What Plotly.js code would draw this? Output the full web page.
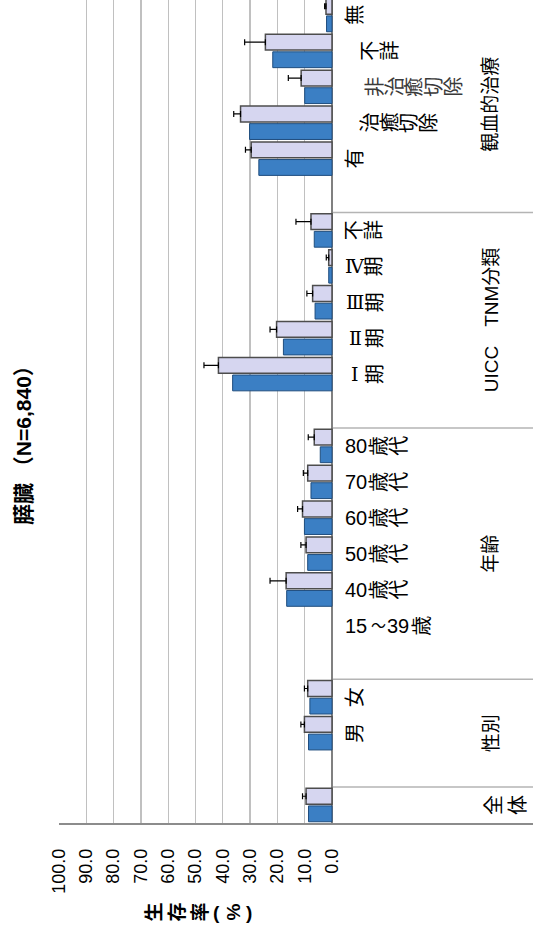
<!DOCTYPE html>
<html><head><meta charset="utf-8">
<script src="https://cdn.plot.ly/plotly-3.0.1.min.js"></script>
<style>html,body{margin:0;padding:0;background:#fff;} #chart{width:533px;height:933px;}</style>
</head><body><div id="chart"></div>
<script>
// ---- data ----
const categories = ["全体","gap1","男","女","gap2","15〜39歳","40歳代","50歳代","60歳代","70歳代","80歳代","gap3","Ⅰ期","Ⅱ期","Ⅲ期","Ⅳ期","不詳(UICC)","gap4","有","治癒切除","非治癒切除","不詳(観血)","無"];
const categoryLabels = ["全体","","男","女","","15〜39歳","40歳代","50歳代","60歳代","70歳代","80歳代","","Ⅰ期","Ⅱ期","Ⅲ期","Ⅳ期","不詳","","有","治癒切除","非治癒切除","不詳","無"];
const observedRate = [8.6,null,8.6,8.1,null,null,16.6,8.9,10.1,7.7,4.3,null,36.4,17.8,6.2,1.2,6.5,null,26.8,30.2,10.0,21.7,2.0];
const relativeRate = [9.5,null,10.1,8.9,null,null,16.8,9.5,10.8,8.9,6.5,null,41.6,20.3,7.1,1.2,7.7,null,29.6,33.5,11.3,24.4,2.2];
const relativeUpperCI = [1.3,null,1.3,1.2,null,null,5.9,1.9,1.8,1.6,2.2,null,5.3,2.4,2.1,0.9,5.5,null,2.1,2.5,4.7,7.6,0.5];
const groupNames = ["性別","年齢","UICC　TNM分類","観血的治療"];
const groupFirst = [1,4,11,17];
const groupLast = [3,10,16,22];
const tickValues = [0,10,20,30,40,50,60,70,80,90,100];
const tickLabels = ["0.0","10.0","20.0","30.0","40.0","50.0","60.0","70.0","80.0","90.0","100.0"];
const chartTitle = "膵臓 （N=6,840）";
const axisTitle = "生存率(%)";

// ---- layout geometry ----
const W = 533, H = 933;
const plotL = 59, plotR = 533, plotT = 0, plotB = 823;
const zeroPx = 332;
const pxPerUnit = (zeroPx - plotL) / 100;
const xRange = [100, 100 - (plotR - plotL) / pxPerUnit];
const slotPx = 35.91;
const yRange = [-0.5, -0.5 + (plotB - plotT) / slotPx];
const paperX = px => (px - plotL) / (plotR - plotL);
const paperY = py => (plotB - py) / (plotB - plotT);

const FONT = "Liberation Sans, Arial, Noto Sans CJK JP, sans-serif";
const ROMAN_FONT = "DejaVu Serif, Liberation Serif, serif";
const annotations = [];

function isAsciiRun(ch){ return /[0-9A-Za-z.,]/.test(ch); }
const asciiW = {"0":0.556,"1":0.556,"2":0.556,"3":0.556,"4":0.556,"5":0.556,"6":0.556,"7":0.556,"8":0.556,"9":0.556};
// vertical (tate-gaki) label as it appears in the rotated picture
function tate(text, startPx, yVal, yref, opts){
  const fs = opts.size || 20, adv = opts.adv || 19.7, color = opts.color || "#000";
  const bold = opts.bold;
  let cur = startPx, i = 0;
  const push = (t, cx, ang, fam, size) => annotations.push({
    text: bold ? "<b>"+t+"</b>" : t, xref:"paper", yref: yref, x: paperX(cx), y: yVal,
    xanchor:"center", yanchor:"middle", showarrow:false, textangle: ang, borderpad:0,
    font:{family: fam || FONT, size: size || fs, color:color}
  });
  while (i < text.length){
    const ch = text[i];
    if (isAsciiRun(ch)){
      let run = "";
      while (i < text.length && isAsciiRun(text[i])){ run += text[i]; i++; }
      let w = 0; for (const c of run) w += (asciiW[c] || 0.6) * fs;
      push(run, cur + w/2, 0); cur += w + 2;
      continue;
    }
    if ("ⅠⅡⅢⅣⅤ".indexOf(ch) >= 0){ push(ch, cur + 10, 0, ROMAN_FONT, fs - 1); cur += 20; }
    else if (ch === "〜"){ push(ch, cur + 9, 0, null, 15); cur += 18; }
    else if (ch === "(" || ch === ")"){ push(ch, cur + 5, 0); cur += 10; }
    else { push(ch, cur + adv/2, -90); cur += adv; }
    i++;
  }
}

const labelStart = {"治癒切除":360, "非治癒切除":365, "不詳(観血)":360, "全体":482};
const labelOpts = {"全体":{adv:24}, "非治癒切除":{color:"#3a3a3a"}};
categories.forEach((c, k) => {
  const t = categoryLabels[k];
  if (!t) return;
  tate(t, labelStart[c] || 345, k, "y", labelOpts[c] || {});
});

groupNames.forEach((g, k) => {
  annotations.push({
    text: g, xref:"paper", yref:"y", x: paperX(491), y: (groupFirst[k] + groupLast[k]) / 2,
    xanchor:"center", yanchor:"middle", showarrow:false, textangle:-90,
    font:{family:FONT, size:19, color:"#000"}
  });
});

// chart title
annotations.push({
  text: "<b>"+chartTitle+"</b>", xref:"paper", yref:"paper", x: paperX(23), y: paperY(440),
  xanchor:"center", yanchor:"middle", showarrow:false, textangle:-90,
  font:{family:FONT, size:21, color:"#000"}
});
// value-axis title (tate-gaki)
tate(axisTitle, 142, paperY(912), "paper", {size:19, adv:23, bold:true});

// separators in the category area
const shapes = [];
groupFirst.forEach(f => {
  shapes.push({type:"line", xref:"paper", yref:"y", x0: paperX(zeroPx), x1: 1, y0: f - 0.5, y1: f - 0.5,
    line:{color:"#b4b4b4", width:1.5}, layer:"below"});
});

const traces = [
  {type:"bar", orientation:"h", y: categories, x: observedRate, name:"実測生存率",
   marker:{color:"#3b7fc4", line:{color:"#1f4d7e", width:1}}, hoverinfo:"skip"},
  {type:"bar", orientation:"h", y: categories, x: relativeRate, name:"相対生存率",
   marker:{color:"#d6d6f0", line:{color:"#4d4d4d", width:1.5}},
   error_x:{type:"data", symmetric:false, array: relativeUpperCI, arrayminus: relativeUpperCI.map(v => v == null ? null : 0),
            color:"#000", thickness:1.2, width:3},
   hoverinfo:"skip"}
];

const layout = {
  width: W, height: H, paper_bgcolor:"#fff", plot_bgcolor:"#fff",
  margin:{l: plotL, r: W - plotR, t: plotT, b: H - plotB, pad:0},
  showlegend:false, barmode:"group", bargap:0.02, bargroupgap:0.1,
  xaxis:{range: xRange, tickmode:"array", tickvals: tickValues, ticktext: tickLabels,
         tickangle:-90, ticks:"", ticklabelstandoff:17,
         tickfont:{family:FONT, size:18, color:"#000"},
         showgrid:true, gridcolor:"#c0c0c0", gridwidth:1.3,
         zeroline:true, zerolinecolor:"#808080", zerolinewidth:1.6,
         showline:true, linecolor:"#8c8c8c", linewidth:1.6, fixedrange:true},
  yaxis:{type:"category", categoryorder:"array", categoryarray: categories, range: yRange,
         showticklabels:false, ticks:"", showgrid:false, zeroline:false, showline:false, fixedrange:true},
  annotations: annotations, shapes: shapes
};
Plotly.newPlot("chart", traces, layout, {staticPlot:true, displayModeBar:false});
</script></body></html>
